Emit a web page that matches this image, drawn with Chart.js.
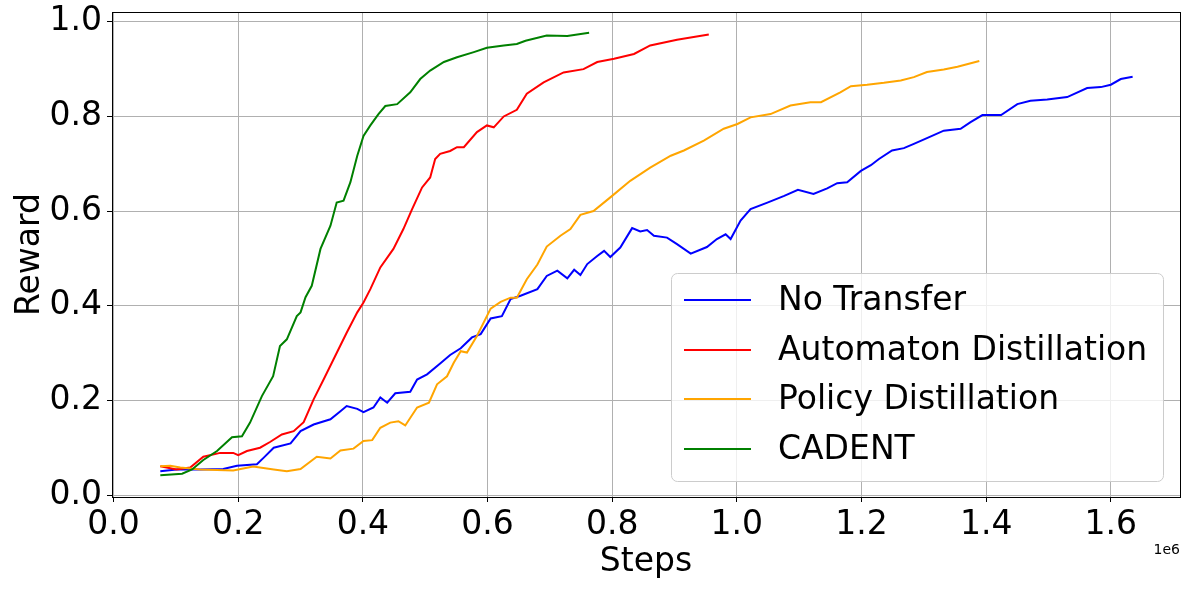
<!DOCTYPE html>
<html lang="en">
<head>
<meta charset="UTF-8">
<title>Reward vs Steps</title>
<script src="https://cdn.jsdelivr.net/npm/chart.js"></script>
<style>
  html, body { margin: 0; padding: 0; background: #fff; }
  #chart { display: block; }
</style>
</head>
<body>
<canvas id="chart" width="1189" height="589"></canvas>
<script>
// steps are in units of 1e6
const noTransferSteps = [0.075,0.101,0.139,0.176,0.198,0.230,0.241,0.257,0.284,0.3,0.321,0.348,0.364,0.374,0.391,0.401,0.417,0.428,0.439,0.452,0.476,0.487,0.503,0.524,0.540,0.557,0.575,0.589,0.605,0.623,0.637,0.653,0.680,0.695,0.712,0.728,0.739,0.749,0.760,0.776,0.787,0.797,0.813,0.832,0.845,0.856,0.867,0.888,0.904,0.926,0.952,0.968,0.982,0.990,1.006,1.022,1.049,1.076,1.098,1.123,1.145,1.161,1.177,1.199,1.215,1.228,1.249,1.268,1.284,1.305,1.332,1.359,1.375,1.394,1.424,1.450,1.471,1.498,1.530,1.562,1.584,1.600,1.616,1.635];
const noTransferReward = [0.050,0.054,0.054,0.055,0.062,0.065,0.079,0.100,0.109,0.135,0.149,0.160,0.177,0.188,0.182,0.175,0.185,0.206,0.195,0.215,0.218,0.244,0.255,0.278,0.296,0.310,0.333,0.340,0.373,0.378,0.414,0.421,0.435,0.463,0.474,0.458,0.476,0.465,0.488,0.505,0.516,0.503,0.523,0.564,0.557,0.560,0.548,0.544,0.530,0.510,0.524,0.541,0.551,0.541,0.580,0.604,0.618,0.632,0.645,0.636,0.648,0.659,0.661,0.685,0.697,0.710,0.728,0.733,0.742,0.754,0.770,0.774,0.788,0.803,0.803,0.826,0.833,0.836,0.841,0.860,0.862,0.867,0.879,0.884];

const automatonSteps = [0.075,0.101,0.123,0.144,0.171,0.192,0.2,0.214,0.235,0.251,0.27,0.289,0.305,0.321,0.337,0.353,0.374,0.391,0.401,0.412,0.428,0.449,0.465,0.479,0.495,0.508,0.516,0.524,0.540,0.551,0.562,0.583,0.599,0.610,0.626,0.647,0.663,0.690,0.722,0.754,0.776,0.803,0.835,0.861,0.904,0.955];
const automatonReward = [0.061,0.054,0.058,0.081,0.089,0.089,0.084,0.093,0.1,0.112,0.128,0.135,0.154,0.202,0.244,0.287,0.343,0.386,0.407,0.435,0.481,0.52,0.562,0.604,0.650,0.671,0.710,0.721,0.727,0.735,0.735,0.767,0.781,0.777,0.800,0.814,0.848,0.872,0.893,0.900,0.915,0.922,0.932,0.950,0.962,0.973];

const policySteps = [0.075,0.091,0.107,0.139,0.192,0.224,0.257,0.278,0.3,0.326,0.348,0.364,0.385,0.401,0.415,0.428,0.444,0.457,0.468,0.487,0.506,0.519,0.535,0.546,0.557,0.567,0.583,0.605,0.621,0.637,0.647,0.663,0.680,0.695,0.717,0.733,0.749,0.770,0.797,0.829,0.861,0.894,0.915,0.947,0.979,1.001,1.022,1.054,1.086,1.118,1.135,1.166,1.183,1.209,1.236,1.263,1.284,1.305,1.332,1.354,1.389];
const policyReward = [0.061,0.062,0.058,0.054,0.052,0.060,0.054,0.050,0.055,0.081,0.077,0.094,0.098,0.114,0.116,0.142,0.153,0.156,0.147,0.185,0.195,0.234,0.251,0.280,0.304,0.301,0.336,0.394,0.408,0.417,0.417,0.456,0.487,0.525,0.548,0.562,0.592,0.600,0.629,0.664,0.692,0.717,0.728,0.749,0.774,0.784,0.798,0.805,0.823,0.830,0.830,0.851,0.864,0.867,0.871,0.876,0.883,0.894,0.899,0.905,0.917];

const cadentSteps = [0.075,0.11,0.126,0.144,0.166,0.19,0.206,0.219,0.238,0.256,0.267,0.278,0.294,0.300,0.308,0.318,0.332,0.348,0.358,0.369,0.38,0.391,0.401,0.412,0.425,0.436,0.455,0.476,0.492,0.508,0.53,0.551,0.578,0.599,0.626,0.647,0.661,0.695,0.728,0.763];
const cadentReward = [0.042,0.045,0.054,0.074,0.093,0.122,0.124,0.153,0.209,0.251,0.315,0.329,0.378,0.386,0.418,0.442,0.52,0.569,0.618,0.622,0.661,0.717,0.759,0.781,0.805,0.822,0.826,0.851,0.879,0.897,0.915,0.925,0.936,0.945,0.950,0.953,0.960,0.971,0.970,0.977];

const xTicks = [0.0, 0.2, 0.4, 0.6, 0.8, 1.0, 1.2, 1.4, 1.6];
const yTicks = [0.0, 0.2, 0.4, 0.6, 0.8, 1.0];

const FONT = 'DejaVu Sans';

function pts(xs, ys) {
    return xs.map((x, i) => ({ x: x, y: ys[i] }));
}

const series = [
    { label: 'No Transfer', color: '#0000ff', data: pts(noTransferSteps, noTransferReward) },
    { label: 'Automaton Distillation', color: '#ff0000', data: pts(automatonSteps, automatonReward) },
    { label: 'Policy Distillation', color: '#ffa500', data: pts(policySteps, policyReward) },
    { label: 'CADENT', color: '#008000', data: pts(cadentSteps, cadentReward) }
];

// frame, axis titles, offset text and legend
const decorations = {
    id: 'decorations',
    afterDatasetsDraw(chart) {
        const ctx = chart.ctx;
        // legend box
        const bx = 671, by = 273, bw = 492, bh = 208;
        ctx.save();
        ctx.beginPath();
        ctx.roundRect(bx + 0.5, by + 0.5, bw, bh, 6);
        ctx.fillStyle = 'rgba(255,255,255,0.8)';
        ctx.fill();
        ctx.strokeStyle = '#cccccc';
        ctx.lineWidth = 1;
        ctx.stroke();
        ctx.font = '33px "' + FONT + '"';
        ctx.textBaseline = 'middle';
        ctx.textAlign = 'left';
        const rowY = [300, 350, 399, 449];
        series.forEach((s, i) => {
            ctx.beginPath();
            ctx.moveTo(684, rowY[i]);
            ctx.lineTo(751, rowY[i]);
            ctx.strokeStyle = s.color;
            ctx.lineWidth = 2;
            ctx.stroke();
            ctx.fillStyle = '#000';
            ctx.fillText(s.label, 778, rowY[i] + 1);
        });
        ctx.restore();
    },
    afterDraw(chart) {
        const ctx = chart.ctx;
        const a = chart.chartArea;
        ctx.save();
        ctx.strokeStyle = '#000';
        ctx.lineWidth = 1;
        ctx.strokeRect(a.left + 0.5, a.top + 0.5, a.right - a.left, a.bottom - a.top);
        ctx.fillStyle = '#000';
        ctx.font = '33px "' + FONT + '"';
        ctx.textAlign = 'center';
        ctx.textBaseline = 'middle';
        ctx.fillText('Steps', (a.left + a.right) / 2, 562);
        ctx.save();
        ctx.translate(30, (a.top + a.bottom) / 2);
        ctx.rotate(-Math.PI / 2);
        ctx.fillText('Reward', 0, 0);
        ctx.restore();
        ctx.font = '14px "' + FONT + '"';
        ctx.textAlign = 'right';
        ctx.fillText('1e6', 1180, 550);
        ctx.restore();
    }
};

new Chart(document.getElementById('chart').getContext('2d'), {
    type: 'line',
    data: {
        datasets: series.map((s, i) => ({
            label: s.label,
            data: s.data,
            borderColor: s.color,
            backgroundColor: s.color,
            borderWidth: 2,
            pointRadius: 0,
            tension: 0,
            fill: false,
            order: series.length - i
        }))
    },
    options: {
        responsive: false,
        animation: false,
        events: [],
        layout: { padding: { top: 12, right: 9, left: 0, bottom: 0 } },
        plugins: {
            legend: { display: false },
            tooltip: { enabled: false }
        },
        scales: {
            x: {
                type: 'linear',
                min: -0.0025,
                max: 1.711,
                afterFit: s => { s.height = 92; s.paddingLeft = 0; s.paddingRight = 0; },
                afterBuildTicks: s => { s.ticks = xTicks.map(v => ({ value: v })); },
                grid: { color: '#b0b0b0', lineWidth: 1, tickColor: '#000', tickLength: 5 },
                border: { display: false },
                ticks: {
                    color: '#000',
                    padding: 4,
                    maxRotation: 0,
                    autoSkip: false,
                    font: { family: FONT, size: 33 },
                    callback: v => v.toFixed(1)
                }
            },
            y: {
                type: 'linear',
                min: -0.0042,
                max: 1.0207,
                afterFit: s => { s.width = 112; s.paddingTop = 0; s.paddingBottom = 0; },
                afterBuildTicks: s => { s.ticks = yTicks.map(v => ({ value: v })); },
                grid: { color: '#b0b0b0', lineWidth: 1, tickColor: '#000', tickLength: 5 },
                border: { display: false },
                ticks: {
                    color: '#000',
                    padding: 5,
                    autoSkip: false,
                    font: { family: FONT, size: 33 },
                    callback: v => v.toFixed(1)
                }
            }
        }
    },
    plugins: [decorations]
});
</script>
</body>
</html>
